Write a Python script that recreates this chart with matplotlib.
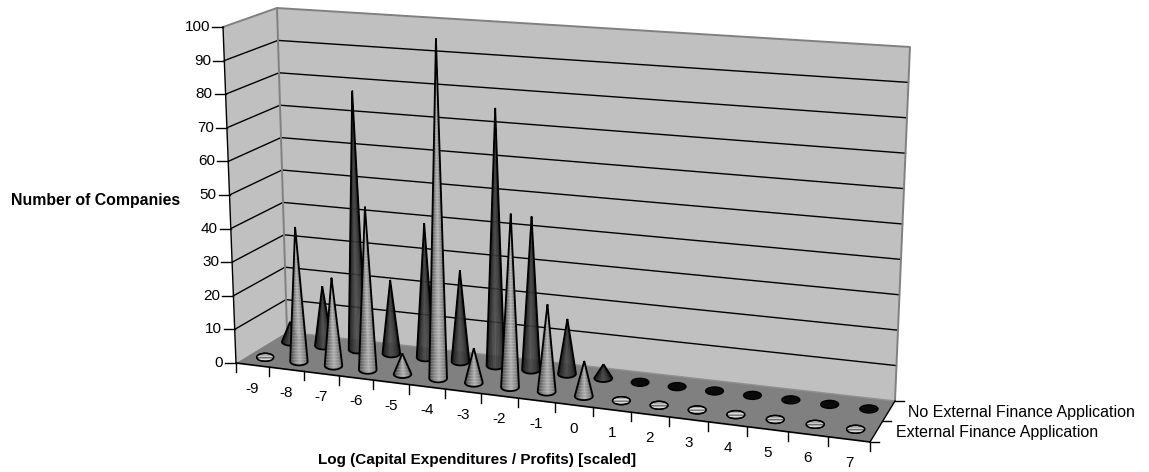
import numpy as np
import matplotlib
matplotlib.use("Agg")
import matplotlib.pyplot as plt
from matplotlib.patches import Polygon, Ellipse
from matplotlib.collections import PolyCollection, LineCollection
from matplotlib.path import Path
from matplotlib.patches import PathPatch

plt.rcParams['font.family'] = ['Liberation Sans', 'DejaVu Sans']

categories = [-9, -8, -7, -6, -5, -4, -3, -2, -1, 0, 1, 2, 3, 4, 5, 6, 7]
external = [0, 40, 26, 48, 6, 99, 10, 50, 25, 10, 0, 0, 0, 0, 0, 0, 0]
no_external = [6, 18, 78, 22, 40, 27, 76, 45, 16, 4, 0, 0, 0, 0, 0, 0, 0]
series_names = ["External Finance Application", "No External Finance Application"]
y_ticks = list(range(0, 101, 10))
y_title = "Number of Companies"
x_title = "Log (Capital Expenditures / Profits) [scaled]"

W, H = 1149, 472
fig = plt.figure(figsize=(W / 100, H / 100), dpi=100)
ax = fig.add_axes([0, 0, 1, 1])
ax.set_xlim(0, W)
ax.set_ylim(H, 0)
ax.axis("off")

# --- hand-made oblique projection of the chart's 3D box
front_ticks = np.array([236, 269, 304, 339, 373, 409, 445, 481, 518, 555, 593, 631, 669, 708, 747, 788, 828, 870.])
n = len(categories)


def floor(u, d):
    """u: category position 0..17, d: depth fraction 0 (front)..1 (back)."""
    fx = np.interp(u, np.arange(n + 1), front_ticks)
    fy = 363 + (fx - 236) * 79 / 634
    bx = 287 + 32.5 * u + 0.192 * u * u
    by = 332 + (bx - 287) * 69 / 608
    return fx + d * (bx - fx), fy + d * (by - fy)


def point(u, d, w):
    x, y = floor(u, d)
    t = u / n
    ux = (1 - d) * (-13 + t * 33) + d * (-10 + t * 25)
    uy = (1 - d) * (-336 + t * -32) + d * (-324 + t * -30)
    return x + ux * w / 100, y + uy * w / 100


def poly(pts, **kw):
    ax.add_patch(Polygon(pts, closed=True, **kw))


# walls and floor
poly([point(0, 0, 0), point(0, 1, 0), point(0, 1, 100), point(0, 0, 100)], fc="#c0c0c0", ec="none", zorder=1)
poly([point(0, 1, 0), point(n, 1, 0), point(n, 1, 100), point(0, 1, 100)], fc="#c0c0c0", ec="none", zorder=1)
poly([point(0, 0, 0), point(n, 0, 0), point(n, 1, 0), point(0, 1, 0)], fc="#808080", ec="none", zorder=2)

# gridlines
for v in y_ticks[1:-1]:
    ax.plot(*zip(point(0, 0, v), point(0, 1, v), point(n, 1, v)), color="black", lw=1.0, zorder=3, solid_joinstyle="miter")
# gray wall borders
ax.plot(*zip(point(0, 0, 100), point(0, 1, 100), point(n, 1, 100), point(n, 1, 0)), color="#808080", lw=1.4, zorder=3)
ax.plot(*zip(point(0, 1, 100), point(0, 1, 0)), color="#808080", lw=1.4, zorder=3)
ax.plot(*zip(point(0, 1, 0), point(n, 1, 0)), color="#909090", lw=1.0, zorder=3)

# axes
FS = 11.5
TICK_FS = 11.0
ax.plot(*zip(point(0, 0, 0), point(0, 0, 100)), color="black", lw=1.0, zorder=4)
for v in y_ticks:
    x, y = point(0, 0, v)
    ax.plot([x - 11, x], [y, y], color="black", lw=1.0, zorder=4)
    ax.text(x - 13, y, str(v), ha="right", va="center", fontsize=TICK_FS, color="black")
ax.plot(*zip(point(0, 0, 0), point(n, 0, 0)), color="black", lw=1.2, zorder=4)
ax.plot(*zip(point(n, 0, 0), point(n, 1, 0)), color="black", lw=1.0, zorder=4)
for i in range(n + 1):
    x, y = floor(i, 0)
    ax.plot([x, x], [y, y + 9], color="black", lw=1.0, zorder=4)
for i, c in enumerate(categories):
    x, y = floor(i + 0.5, 0)
    ax.text(x, y + 23.5, str(c), ha="center", va="center", fontsize=TICK_FS)
for d in (0, 0.5, 1):
    x, y = floor(n, d)
    ax.plot([x, x + 9], [y, y], color="black", lw=1.0, zorder=4)
ax.text(908, 412, series_names[1], ha="left", va="center", fontsize=FS)
ax.text(896, 432, series_names[0], ha="left", va="center", fontsize=FS)
ax.text(11, 200, y_title, ha="left", va="center", fontsize=11.4, fontweight="bold")
ax.text(477, 460, x_title, ha="center", va="center", fontsize=11.0, fontweight="bold")

# cones
light_stops = ([0, .12, .45, .7, 1], [.32, .50, .70, .54, .26])
dark_stops = ([0, .25, .55, 1], [.08, .20, .28, .08])


def cone(u, d, val, kind, z):
    cx, cy = point(u, d, 0)
    tx, ty = point(u, d, val)
    rx, ry = 8.7 + 0.6 * u / n, 4.0
    stops = light_stops if kind == "light" else dark_stops
    th = np.linspace(np.pi, 0, 41)
    ex, ey = cx + rx * np.cos(th), cy + ry * np.sin(th)
    if val <= 0:
        e = Ellipse((cx, cy), 2 * rx - 0.5, 2 * ry, fc="#a8a8a8" if kind == "light" else "#0a0a0a",
                    ec="black", lw=1.0, zorder=z)
        ax.add_patch(e)
        if kind == "light":
            lines = [[(cx - rx, cy + o), (cx + rx, cy + o)] for o in (-1.5, 0.0, 1.5)]
            lc = LineCollection(lines, colors=["#d8d8d8", "#707070", "#d8d8d8"], lw=0.9, zorder=z)
            ax.add_collection(lc)
            lc.set_clip_path(e)
            e2 = Ellipse((cx, cy), 2 * rx - 0.5, 2 * ry, fc="none", ec="black", lw=1.0, zorder=z + 0.1)
            ax.add_patch(e2)
        return
    polys, cols = [], []
    for i in range(len(th) - 1):
        t = (1 - np.cos(th[i])) / 2
        g = float(np.interp(t, *stops))
        polys.append([(tx, ty), (ex[i], ey[i]), (ex[i + 1], ey[i + 1])])
        cols.append((g, g, g, 1.0 if kind == "light" else 0.82))
    pc = PolyCollection(polys, facecolors=cols, edgecolors=cols, lw=0.2, zorder=z)
    ax.add_collection(pc)
    verts = [(tx, ty)] + list(zip(ex, ey)) + [(tx, ty)]
    path = Path(verts, closed=False)
    if kind == "light":
        clip = PathPatch(path, transform=ax.transData, fc="none", ec="none")
        ax.add_patch(clip)
        ys = np.arange(ty, cy + ry + 3, 3.0)
        lines = [[(cx - rx - 2, yy), (cx + rx + 2, yy)] for yy in ys]
        lc = LineCollection(lines, colors=[(1, 1, 1, .16)], lw=1.0, zorder=z + 0.01)
        ax.add_collection(lc)
        lc.set_clip_path(clip)
    ax.add_patch(PathPatch(path, fc="none", ec="black", lw=1.3, zorder=z + 0.02, joinstyle="round"))


for i, v in enumerate(no_external):
    cone(i + 0.5, 0.75, v, "dark", 5 + i * 0.1)
for i, v in enumerate(external):
    cone(i + 0.5, 0.25, v, "light", 8 + i * 0.1)

fig.savefig("out.png", dpi=100, facecolor="white")
